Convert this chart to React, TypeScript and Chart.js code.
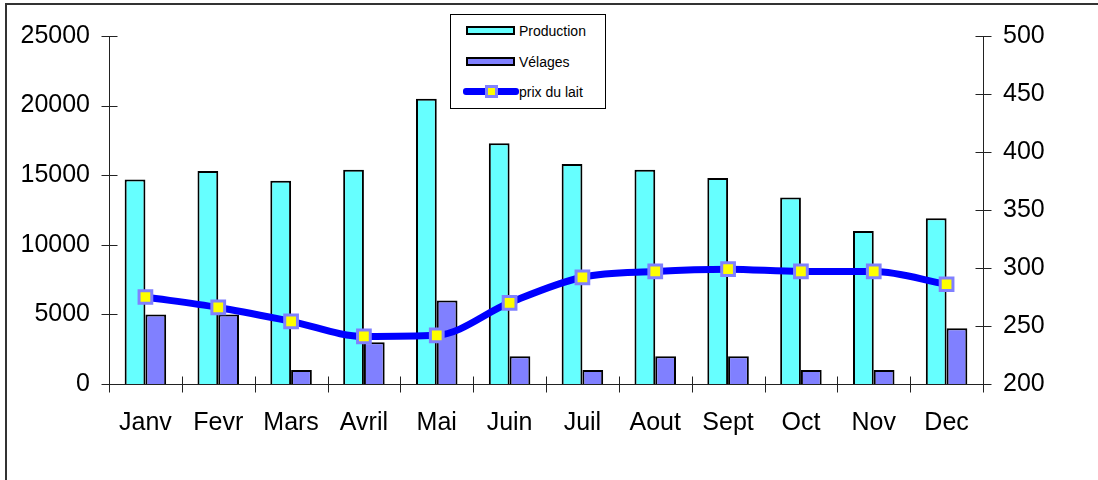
import React, { useEffect, useRef } from "react";
import { Chart, registerables } from "chart.js";

Chart.register(...registerables);

const months = ["Janv", "Fevr", "Mars", "Avril", "Mai", "Juin", "Juil", "Aout", "Sept", "Oct", "Nov", "Dec"];
const production = [14700, 15300, 14600, 15400, 20500, 17300, 15800, 15400, 14800, 13400, 11000, 11900];
const velages = [5000, 5000, 1000, 3000, 6000, 2000, 1000, 2000, 2000, 1000, 1000, 4000];
const prixDuLait = [275, 266, 254, 241, 242, 270, 292, 297, 299, 297, 297, 286];
const leftTicks = [0, 5000, 10000, 15000, 20000, 25000];
const rightTicks = [200, 250, 300, 350, 400, 450, 500];

const FONT = "'Liberation Sans', Arial, sans-serif";
const CYAN = "#66FFFF";
const LAVENDER = "#8080FF";
const BLUE = "#0000FF";

const crossAxes = {
  id: "crossAxes",
  beforeDatasetsDraw(chart: any) {
    const { ctx, chartArea: a, scales } = chart;
    const y = scales.y;
    const y1 = scales.y1;
    ctx.save();
    ctx.strokeStyle = "#222";
    ctx.lineWidth = 1;
    ctx.beginPath();
    const L = Math.round(a.left) + 0.5;
    const R = Math.round(a.right) + 0.5;
    const B = Math.round(a.bottom) + 0.5;
    ctx.moveTo(L, y.getPixelForValue(leftTicks[leftTicks.length - 1]));
    ctx.lineTo(L, B);
    for (const v of leftTicks) {
      const py = Math.round(y.getPixelForValue(v)) + 0.5;
      ctx.moveTo(L - 8, py);
      ctx.lineTo(L + 8, py);
    }
    ctx.moveTo(R, y1.getPixelForValue(rightTicks[rightTicks.length - 1]));
    ctx.lineTo(R, B);
    for (const v of rightTicks) {
      const py = Math.round(y1.getPixelForValue(v)) + 0.5;
      ctx.moveTo(R - 8, py);
      ctx.lineTo(R + 8, py);
    }
    ctx.moveTo(L, B);
    ctx.lineTo(R, B);
    const n = months.length;
    for (let i = 0; i <= n; i++) {
      const px = Math.round(a.left + (i * (a.right - a.left)) / n) + 0.5;
      ctx.moveTo(px, B - 8);
      ctx.lineTo(px, B + 8);
    }
    ctx.stroke();
    ctx.restore();
  },
};

export default function App() {
  const ref = useRef<HTMLCanvasElement | null>(null);

  useEffect(() => {
    if (!ref.current) return;
    const chart = new Chart(ref.current, {
      type: "bar",
      data: {
        labels: months,
        datasets: [
          {
            type: "line",
            label: "prix du lait",
            data: prixDuLait,
            yAxisID: "y1",
            borderColor: BLUE,
            borderWidth: 7,
            cubicInterpolationMode: "monotone",
            pointStyle: "rect",
            pointRadius: 9,
            pointBorderWidth: 3,
            pointBackgroundColor: "#FFFF00",
            pointBorderColor: LAVENDER,
            order: 0,
          } as any,
          {
            label: "Production",
            data: production,
            yAxisID: "y",
            backgroundColor: CYAN,
            borderColor: "#000",
            borderWidth: 2,
            order: 1,
          },
          {
            label: "Vélages",
            data: velages,
            yAxisID: "y",
            backgroundColor: LAVENDER,
            borderColor: "#000",
            borderWidth: 2,
            order: 1,
          },
        ],
      },
      options: {
        animation: false,
        responsive: false,
        maintainAspectRatio: false,
        datasets: { bar: { categoryPercentage: 0.57, barPercentage: 1 } },
        layout: { padding: { top: 36, left: 0, right: 0, bottom: 0 } },
        plugins: { legend: { display: false }, tooltip: { enabled: false } },
        scales: {
          x: {
            grid: { display: false },
            border: { display: false },
            ticks: {
              color: "#000",
              font: { family: FONT, size: 25 },
              padding: 16,
              autoSkip: false,
              maxRotation: 0,
            },
            afterFit: (s: any) => {
              s.height = 96;
            },
          },
          y: {
            position: "left",
            min: 0,
            max: 25000,
            grid: { display: false },
            border: { display: false },
            ticks: {
              stepSize: 5000,
              color: "#000",
              font: { family: FONT, size: 25 },
              padding: 11,
              callback: (v: any) => String(v),
            },
            afterFit: (s: any) => {
              s.width = 109;
            },
          },
          y1: {
            position: "right",
            min: 200,
            max: 500,
            grid: { display: false },
            border: { display: false },
            ticks: {
              stepSize: 50,
              color: "#000",
              font: { family: FONT, size: 25 },
              padding: 12,
              callback: (v: any) => String(v),
            },
            afterFit: (s: any) => {
              s.width = 115;
            },
          },
        },
      },
      plugins: [crossAxes],
    });
    return () => chart.destroy();
  }, []);

  const legendText: React.CSSProperties = {
    position: "absolute",
    left: 68,
    fontFamily: FONT,
    fontSize: 14,
    lineHeight: "16px",
    color: "#000",
    whiteSpace: "nowrap",
  };

  return (
    <div
      style={{
        position: "fixed",
        left: 0,
        top: 0,
        width: 1098,
        height: 480,
        overflow: "hidden",
        background: "#fff",
      }}
    >
      <div
        style={{
          position: "absolute",
          left: 5,
          top: 3,
          width: 1200,
          height: 600,
          border: "2px solid #333",
          boxSizing: "border-box",
        }}
      />
      <canvas ref={ref} width={1098} height={480} style={{ position: "absolute", left: 0, top: 0, display: "block" }} />
      <div
        style={{
          position: "absolute",
          left: 450,
          top: 14,
          width: 156,
          height: 95,
          border: "1px solid #000",
          boxSizing: "border-box",
          background: "#fff",
        }}
      >
        <div style={{ position: "absolute", left: 15, top: 11, width: 49, height: 9, background: CYAN, border: "2px solid #000", boxSizing: "border-box" }} />
        <div style={{ ...legendText, top: 8 }}>Production</div>
        <div style={{ position: "absolute", left: 15, top: 42, width: 49, height: 9, background: LAVENDER, border: "2px solid #000", boxSizing: "border-box" }} />
        <div style={{ ...legendText, top: 39 }}>Vélages</div>
        <div style={{ position: "absolute", left: 12, top: 73, width: 56, height: 7, background: BLUE, borderRadius: 3 }} />
        <div style={{ position: "absolute", left: 34, top: 70, width: 13, height: 13, background: "#FFFF00", border: "3px solid " + LAVENDER, boxSizing: "border-box" }} />
        <div style={{ ...legendText, top: 69 }}>prix du lait</div>
      </div>
    </div>
  );
}
